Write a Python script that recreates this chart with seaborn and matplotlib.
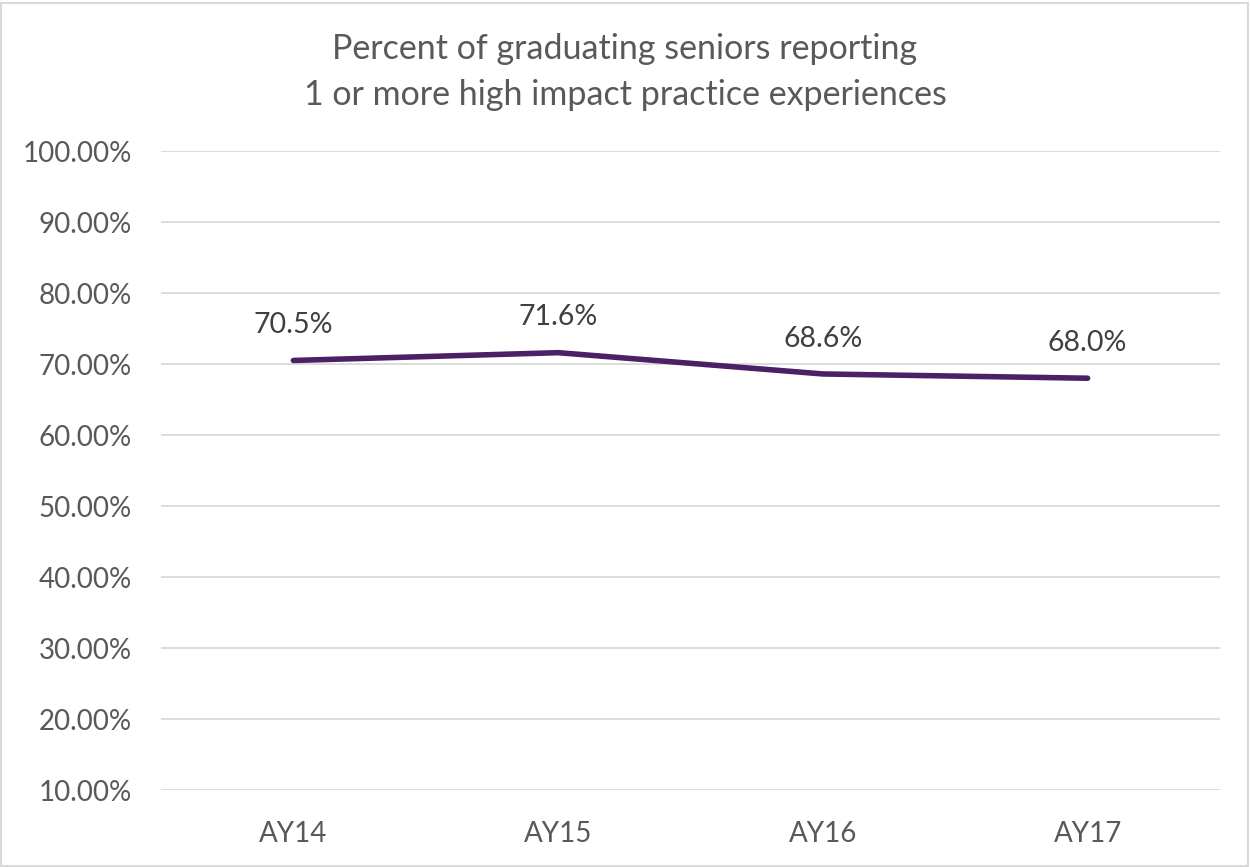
import matplotlib
matplotlib.use("Agg")
import matplotlib.pyplot as plt
import seaborn as sns
import pandas as pd
from matplotlib.patches import Rectangle

years = ["AY14", "AY15", "AY16", "AY17"]
values = [70.5, 71.6, 68.6, 68.0]
labels = ["70.5%", "71.6%", "68.6%", "68.0%"]
yticks = [10, 20, 30, 40, 50, 60, 70, 80, 90, 100]

sns.set_theme(style="white")
plt.rcParams['font.family'] = ['Lato', 'DejaVu Sans']

df = pd.DataFrame({"year": years, "value": values})

fig = plt.figure(figsize=(12.5, 8.67), dpi=100)
ax = fig.add_axes([0.1288, 0.0888, 0.8472, 0.737])

for y in yticks:
    ax.axhline(y, color="#D9D9D9", lw=1.3, zorder=0)

sns.lineplot(data=df, x="year", y="value", ax=ax, color="#4B2067", lw=4, sort=False,
             solid_capstyle="round")

for i, (v, t) in enumerate(zip(values, labels)):
    ax.annotate(t, (i, v), xytext=(0, 16), textcoords="offset points",
                ha="center", va="bottom", fontsize=20.5, color="#404040")

ax.set_xlim(-0.5, 3.5)
ax.set_ylim(10, 100)
ax.set_yticks(yticks)
ax.set_yticklabels([f"{y:.2f}%" for y in yticks])
ax.set_xlabel("")
ax.set_ylabel("")
ax.tick_params(axis="both", length=0, labelsize=20, labelcolor="#595959")
ax.tick_params(axis="y", pad=21)
ax.tick_params(axis="x", pad=22)
for s in ax.spines.values():
    s.set_visible(False)

fig.text(0.5, 0.962, "Percent of graduating seniors reporting\n1 or more high impact practice experiences",
         ha="center", va="top", fontsize=24.5, color="#595959", linespacing=1.55)

fig.patches.append(Rectangle((0.001, 0.001), 0.997, 0.996, transform=fig.transFigure,
                             fill=False, edgecolor="#D9D9D9", lw=1.5))

fig.savefig("out.png", dpi=100)
